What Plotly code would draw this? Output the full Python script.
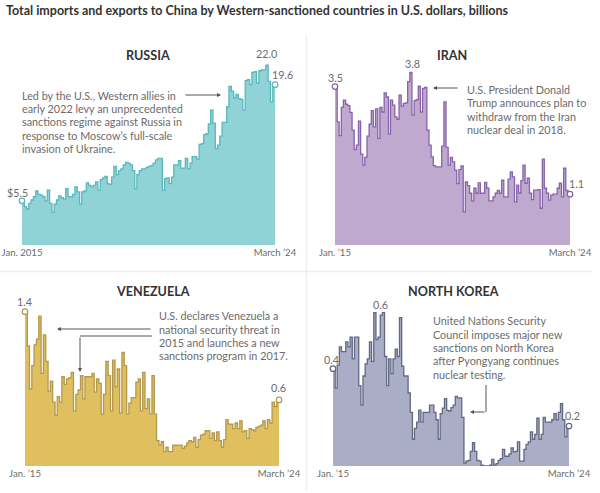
import pandas as pd
import plotly.graph_objects as go

# monthly totals, billions of U.S. dollars
months = pd.date_range('2015-01-01', '2024-03-01', freq='MS')

russia = [5.4, 4.7, 4.4, 5.1, 5.5, 5.9, 6.6, 6.2, 6.1, 5.9,
          5.4, 6.7, 5.1, 4.0, 5.0, 5.5, 6.0, 5.8, 5.6, 6.9,
          5.9, 5.9, 6.2, 7.1, 6.5, 5.0, 6.5, 6.6, 7.6, 7.3,
          7.1, 7.3, 7.7, 6.7, 8.0, 8.2, 8.4, 7.5, 7.4, 8.3,
          9.6, 8.6, 9.1, 9.3, 9.8, 10.1, 10.0, 9.8, 9.1, 6.9,
          8.6, 9.1, 9.3, 9.3, 9.5, 9.6, 9.7, 10.0, 10.4, 10.6,
          10.6, 6.7, 8.1, 8.2, 7.5, 8.3, 9.8, 9.8, 10.3, 9.4,
          9.4, 10.6, 9.3, 10.0, 10.8, 10.8, 10.5, 12.3, 12.4, 13.5,
          13.6, 14.8, 16.5, 14.9, 11.8, 12.2, 13.3, 15.0, 15.0, 16.9,
          19.4, 18.8, 18.0, 18.4, 17.9, 17.8, 16.5, 20.1, 20.2, 19.6,
          21.1, 21.2, 19.8, 21.3, 21.4, 21.4, 22.0, 20.0, 17.5, 19.5,
          19.6]

iran = [3.49, 2.71, 2.41, 3.03, 3.19, 3.1, 3.07, 2.92, 2.53, 2.1,
        2.2, 2.73, 2.0, 1.76, 1.93, 2.4, 2.66, 2.96, 2.6, 3.0,
        2.35, 3.03, 2.93, 3.35, 3.26, 2.44, 3.19, 3.08, 2.82, 2.77,
        3.3, 3.06, 3.12, 3.13, 3.6, 3.8, 2.86, 3.18, 3.2, 3.5,
        2.93, 3.45, 3.47, 2.53, 2.2, 1.94, 1.75, 1.72, 1.72, 1.72,
        2.18, 3.15, 2.15, 1.76, 1.93, 1.83, 1.65, 1.35, 1.66, 1.74,
        0.73, 1.39, 1.31, 1.14, 0.97, 1.25, 1.14, 1.37, 1.14, 1.14,
        1.38, 1.25, 0.97, 0.97, 1.06, 1.14, 1.2, 1.14, 1.43, 1.06,
        1.06, 1.45, 1.61, 1.5, 0.95, 1.32, 1.14, 1.42, 1.76, 1.36,
        1.47, 1.14, 1.0, 1.21, 1.21, 1.22, 0.81, 1.89, 1.25, 1.14,
        0.99, 1.1, 1.12, 1.12, 1.25, 1.36, 1.06, 1.69, 1.2, 1.14,
        1.12]

venezuela = [1.40, 1.09, 0.70, 0.91, 1.10, 1.15, 1.36, 0.84, 1.19, 0.95,
             0.68, 0.77, 0.58, 0.46, 0.63, 0.58, 0.81, 0.74, 0.79, 0.80,
             0.85, 0.50, 0.65, 0.69, 0.82, 0.61, 0.81, 0.81, 0.81, 0.84,
             0.67, 0.79, 0.75, 0.47, 0.65, 0.95, 0.82, 0.5, 0.96, 0.72,
             0.88, 0.48, 1.03, 0.91, 0.47, 0.57, 0.62, 0.62, 0.76, 0.79,
             0.5, 0.85, 0.52, 0.61, 0.47, 0.82, 0.47, 0.23, 0.19, 0.22,
             0.13, 0.17, 0.13, 0.13, 0.19, 0.19, 0.19, 0.19, 0.16, 0.18,
             0.21, 0.23, 0.22, 0.26, 0.17, 0.24, 0.28, 0.29, 0.32, 0.32,
             0.25, 0.3, 0.23, 0.31, 0.23, 0.17, 0.24, 0.42, 0.38, 0.38,
             0.34, 0.39, 0.34, 0.41, 0.31, 0.32, 0.25, 0.34, 0.33, 0.32,
             0.35, 0.36, 0.37, 0.41, 0.34, 0.42, 0.39, 0.58, 0.54, 0.6,
             0.6]

north_korea = [0.40, 0.32, 0.415, 0.49, 0.47, 0.47, 0.51, 0.49, 0.53, 0.44,
               0.53, 0.53, 0.33, 0.25, 0.37, 0.42, 0.44, 0.51, 0.43, 0.63,
               0.52, 0.53, 0.62, 0.63, 0.45, 0.33, 0.44, 0.38, 0.44, 0.48,
               0.45, 0.61, 0.41, 0.37, 0.37, 0.30, 0.22, 0.11, 0.155, 0.18,
               0.23, 0.18, 0.22, 0.22, 0.22, 0.25, 0.25, 0.22, 0.19, 0.11,
               0.215, 0.238, 0.277, 0.229, 0.226, 0.24, 0.25, 0.286, 0.28, 0.28,
               0.2, 0.012, 0.02, 0.023, 0.06, 0.096, 0.06, 0.023, 0.02, 0.003,
               0, 0, 0, 0.003, 0.027, 0.003, 0.01, 0.023, 0.03, 0.068,
               0.04, 0.04, 0.05, 0.074, 0.058, 0.06, 0.099, 0.02, 0.02, 0.068,
               0.089, 0.099, 0.14, 0.11, 0.13, 0.197, 0.11, 0.13, 0.2, 0.18,
               0.18, 0.18, 0.19, 0.215, 0.19, 0.22, 0.256, 0.19, 0.12, 0.16,
               0.164]

russia_ticks = ['Jan. 2015', 'March ’24']
other_ticks = ['Jan. ’15', 'March ’24']

russia_note = ['Led by the U.S., Western allies in', 'early 2022 levy an unprecedented',
               'sanctions regime against Russia in', 'response to Moscow’s full-scale',
               'invasion of Ukraine.']
iran_note = ['U.S. President Donald', 'Trump announces plan to',
             'withdraw from the Iran', 'nuclear deal in 2018.']
venezuela_note = ['U.S. declares Venezuela a', 'national security threat in',
                  '2015 and launches a new', 'sanctions program in 2017.']
north_korea_note = ['United Nations Security', 'Council imposes major new',
                    'sanctions on North Korea', 'after Pyongyang continues',
                    'nuclear testing.']

W, H = 600, 493
FONT = 'Lato'
TEXT = '#6b6b6b'
DARK = '#333333'


def px(x):
    return x / W


def py(y):
    return 1 - y / H


# name, values, ticks, fill, line, left, right, top pixel, baseline pixel, pixels per unit
panels = [
    ('RUSSIA', russia, russia_ticks, '#90d3d6', '#58b8bd', 22, 275, 60, 245, 8.18),
    ('IRAN', iran, other_ticks, '#c0a9cf', '#8763aa', 335, 570, 60, 245, 45.4),
    ('VENEZUELA', venezuela, other_ticks, '#dfbf5e', '#b3994e', 25, 279, 305, 466, 110.2),
    ('NORTH KOREA', north_korea, other_ticks, '#a9adc6', '#636883', 333, 569, 305, 466, 243.3),
]

fig = go.Figure()
layout = {}

for n, (name, values, ticks, fill, line, x0, x1, top, base, scale) in enumerate(panels):
    suffix = '' if n == 0 else str(n + 1)
    fig.add_trace(go.Scatter(
        x=months, y=values, mode='lines', line=dict(color=line, width=1.3, shape='hv'),
        fill='tozeroy', fillcolor=fill, xaxis='x' + suffix, yaxis='y' + suffix,
        hoverinfo='skip', showlegend=False,
    ))
    fig.add_trace(go.Scatter(
        x=[months[0], months[-1]], y=[values[0], values[-1]], mode='markers',
        marker=dict(size=5.5, color='white', line=dict(color=line, width=1.2)),
        xaxis='x' + suffix, yaxis='y' + suffix, hoverinfo='skip', showlegend=False,
        cliponaxis=False,
    ))
    layout['xaxis' + suffix] = dict(
        domain=[px(x0), px(x1)], range=[months[0], months[-1]], anchor='y' + suffix,
        showgrid=False, zeroline=False, showline=False, ticks='', automargin=False,
        tickmode='array', tickvals=[months[0], months[-1]], ticktext=ticks,
        tickfont=dict(family=FONT, size=9.6, color=TEXT),
    )
    layout['yaxis' + suffix] = dict(
        domain=[py(base), py(top)], range=[0, (base - top) / scale], anchor='x' + suffix,
        showgrid=False, zeroline=False, showline=False, showticklabels=False, ticks='',
        automargin=False,
    )


def label(x, y, text, size=10.8, color=TEXT, bold=False, xanchor='center'):
    fig.add_annotation(
        x=px(x), y=py(y), xref='paper', yref='paper', text='<b>%s</b>' % text if bold else text,
        showarrow=False, xanchor=xanchor, yanchor='middle',
        font=dict(family=FONT, size=size, color=color),
    )


def note(x, y, lines, step=13.4):
    for k, text in enumerate(lines):
        label(x, y + k * step, text, xanchor='left')


def arrow(x0, y0, x1, y1):
    fig.add_annotation(
        x=px(x1), y=py(y1), ax=x0 - x1, ay=y0 - y1, xref='paper', yref='paper',
        axref='pixel', ayref='pixel', text='', showarrow=True,
        arrowhead=2, arrowsize=0.8, arrowwidth=1, arrowcolor='#555555',
    )


def line_shape(x0, y0, x1, y1, color='#555555', width=1):
    fig.add_shape(type='line', xref='paper', yref='paper', x0=px(x0), y0=py(y0),
                  x1=px(x1), y1=py(y1), line=dict(color=color, width=width))


label(4, 10, 'Total imports and exports to China by Western-sanctioned countries in U.S. dollars, billions',
      size=12.5, color=DARK, bold=True, xanchor='left')

label(148, 55, 'RUSSIA', size=12.6, color=DARK, bold=True)
label(452, 55, 'IRAN', size=12.6, color=DARK, bold=True)
label(153, 291, 'VENEZUELA', size=12.6, color=DARK, bold=True)
label(453, 291, 'NORTH KOREA', size=12.6, color=DARK, bold=True)

label(17, 192, '$5.5')
label(266, 54, '22.0')
label(282, 74, '19.6')
label(335, 77, '3.5')
label(412, 63, '3.8')
label(576, 183, '1.1')
label(24, 301, '1.4')
label(278, 387, '0.6')
label(331, 359, '0.4')
label(380, 304, '0.6')
label(572, 415, '0.2')

note(20, 95, russia_note)
note(465, 89.3, iran_note)
note(157, 315.7, venezuela_note)
note(431, 320.7, north_korea_note)

arrow(184, 95, 221, 95)
arrow(459, 88, 433, 88)
arrow(152, 329, 57, 329)
line_shape(152, 336, 80, 336)
arrow(80, 336, 80, 372)
line_shape(486, 385, 486, 412)
arrow(486, 412, 470, 412)

# thin rules between the panels
line_shape(306.5, 35, 306.5, 490, color='#eeeeee', width=1.5)
line_shape(0, 271.5, 592, 271.5, color='#eeeeee', width=1.5)

fig.update_layout(
    width=W, height=H, margin=dict(l=0, r=0, t=0, b=0),
    paper_bgcolor='white', plot_bgcolor='white', showlegend=False, **layout,
)

# the page's default body margin would shift everything by 8px
fig.write_html("out.html", config={'displayModeBar': False},
               post_script="document.body.style.margin = '0';")
